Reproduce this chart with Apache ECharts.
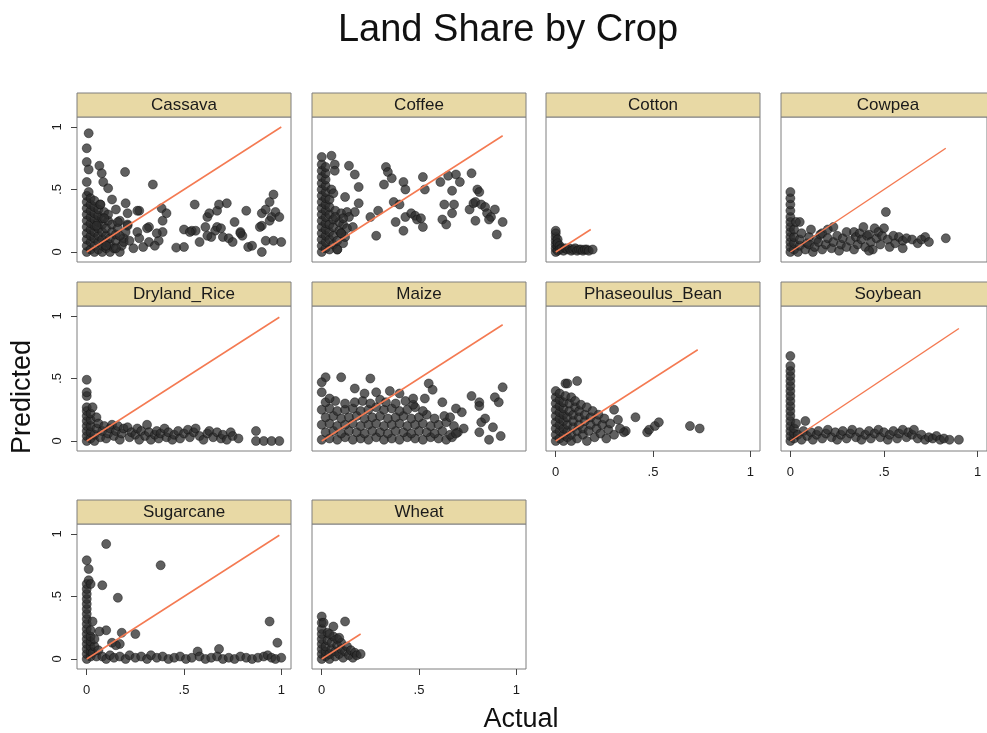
<!DOCTYPE html>
<html>
<head>
<meta charset="utf-8">
<title>Land Share by Crop</title>
<script src="https://cdn.jsdelivr.net/npm/echarts@6.0.0/dist/echarts.min.js"></script>
<style>
  html, body { margin: 0; padding: 0; background: #fff; }
  #main { width: 987px; height: 733px; }
</style>
</head>
<body>
<div id="main"></div>
<script>
// ---- data: [actual, predicted] pairs ----
var crops = ['Cassava', 'Coffee', 'Cotton', 'Cowpea', 'Dryland_Rice', 'Maize',
             'Phaseoulus_Bean', 'Soybean', 'Sugarcane', 'Wheat'];

// largest actual share per crop (end of the 45 degree line)
var maxActual = [1.0, 0.93, 0.18, 0.83, 0.99, 0.93, 0.73, 0.9, 0.99, 0.2];

var tickValues = [0, 0.5, 1];

var cassava = [
  [0,0],[0,0.05],[0,0.1],[0,0.15],[0,0.2],[0,0.25],[0,0.3],[0,0.35],[0,0.4],[0,0.45],[0.01,0.48],
  [0.02,0.02],[0.02,0.08],[0.02,0.13],[0.02,0.18],[0.02,0.23],[0.02,0.28],[0.02,0.33],[0.02,0.38],[0.02,0.43],
  [0.04,0],[0.04,0.05],[0.04,0.11],[0.04,0.16],[0.04,0.21],[0.04,0.26],[0.04,0.31],[0.04,0.36],[0.04,0.41],
  [0.06,0.02],[0.06,0.08],[0.06,0.13],[0.06,0.19],[0.06,0.24],[0.06,0.29],[0.06,0.34],[0.07,0.38],
  [0.08,0],[0.08,0.05],[0.08,0.1],[0.08,0.16],[0.08,0.22],[0.08,0.27],[0.09,0.32],
  [0.1,0.03],[0.1,0.08],[0.1,0.13],[0.1,0.19],[0.11,0.25],[0.11,0.3],
  [0.12,0],[0.12,0.06],[0.12,0.11],[0.13,0.16],[0.13,0.22],
  [0.14,0.03],[0.15,0.09],[0.15,0.14],[0.16,0.19],[0.17,0.25],
  [0.17,0],[0.18,0.05],[0.19,0.11],[0.2,0.16],[0.21,0.22],
  [0.01,0.95],[0,0.83],[0,0.72],[0.01,0.66],[0.065,0.69],[0.077,0.63],[0.197,0.64],[0.085,0.56],
  [0,0.56],[0.11,0.51],[0.34,0.54],[0.2,0.39],[0.13,0.42],[0.27,0.33],[0.385,0.35],[0.41,0.31],
  [0.39,0.25],[0.32,0.2],[0.39,0.16],[0.37,0.09],[0.46,0.035],[0.5,0.04],[0.555,0.38],[0.5,0.18],
  [0.54,0.17],[0.56,0.17],[0.58,0.08],[0.61,0.2],[0.62,0.28],[0.63,0.31],[0.67,0.33],[0.68,0.38],
  [0.67,0.2],[0.66,0.17],[0.69,0.19],[0.72,0.39],[0.7,0.12],[0.73,0.11],[0.76,0.24],[0.75,0.08],
  [0.79,0.16],[0.8,0.13],[0.82,0.33],[0.83,0.04],[0.85,0.05],[0.9,0.31],[0.9,0.21],[0.92,0.34],
  [0.94,0.4],[0.96,0.46],[0.94,0.25],[0.95,0.28],[0.9,0],[0.92,0.09],[0.96,0.09],[0.97,0.32],
  [0.99,0.28],[1.0,0.08],[0.89,0.2],[0.79,0.15],[0.64,0.12],[0.62,0.13],[0.53,0.16],
  [0.15,0.34],[0.16,0.24],[0.21,0.31],[0.26,0.33],[0.21,0.21],[0.26,0.16],[0.27,0.11],[0.31,0.19],
  [0.32,0.08],[0.35,0.05],[0.29,0.04],[0.24,0.03],[0.19,0.08],[0.17,0.13],[0.22,0.09],[0.36,0.15],
  [0.15,0.03],[0.1,0.05],[0.09,0.27],[0.07,0.38],[0.05,0.21]
];

var coffee = [
  [0,0],[0,0.05],[0,0.1],[0,0.15],[0,0.2],[0,0.25],[0,0.3],[0,0.35],[0,0.4],[0,0.45],[0,0.5],
  [0,0.55],[0,0.6],[0,0.65],[0,0.7],[0,0.76],
  [0.02,0.03],[0.02,0.08],[0.02,0.13],[0.02,0.18],[0.02,0.23],[0.02,0.28],[0.02,0.33],[0.02,0.38],
  [0.02,0.43],[0.02,0.48],[0.02,0.53],[0.02,0.58],[0.02,0.63],[0.02,0.68],
  [0.04,0.02],[0.04,0.1],[0.04,0.16],[0.04,0.22],[0.04,0.3],[0.04,0.36],[0.04,0.42],[0.05,0.5],[0.05,0.77],
  [0.06,0.06],[0.06,0.13],[0.06,0.2],[0.06,0.26],[0.07,0.33],[0.06,0.47],
  [0.08,0.02],[0.08,0.09],[0.09,0.17],[0.09,0.24],[0.1,0.31],[0.1,0.15],[0.11,0.07],[0.11,0.22],
  [0.12,0.12],[0.13,0.19],
  [0.067,0.7],[0.067,0.65],[0.14,0.69],[0.17,0.62],[0.19,0.52],[0.12,0.44],[0.19,0.39],[0.17,0.32],
  [0.13,0.32],[0.14,0.28],[0.11,0.27],[0.07,0.28],[0.29,0.33],[0.25,0.28],[0.16,0.2],[0.1,0.15],
  [0.08,0.02],[0.28,0.13],[0.33,0.68],[0.34,0.64],[0.36,0.59],[0.32,0.54],[0.42,0.56],[0.43,0.5],
  [0.37,0.4],[0.4,0.38],[0.38,0.24],[0.42,0.17],[0.43,0.28],[0.46,0.31],[0.48,0.29],[0.49,0.26],
  [0.51,0.27],[0.52,0.2],[0.52,0.6],[0.53,0.5],[0.61,0.56],[0.65,0.61],[0.69,0.62],[0.71,0.56],
  [0.77,0.63],[0.67,0.49],[0.63,0.38],[0.68,0.38],[0.67,0.31],[0.62,0.26],[0.64,0.22],[0.76,0.34],
  [0.78,0.39],[0.79,0.4],[0.8,0.5],[0.81,0.48],[0.82,0.38],[0.84,0.36],[0.85,0.31],[0.87,0.28],
  [0.89,0.34],[0.86,0.26],[0.79,0.25],[0.93,0.24],[0.9,0.14]
];

var cotton = [
  [0,0],[0,0.03],[0,0.06],[0,0.09],[0,0.12],[0,0.15],[0,0.17],[0.01,0.01],[0.01,0.05],[0.01,0.1],
  [0.01,0.07],[0.02,0.05],[0.02,0.02],[0.03,0.03],[0.04,0.01],[0.05,0.03],[0.06,0.02],[0.07,0.03],
  [0.08,0.01],[0.09,0.02],[0.1,0.03],[0.11,0.01],[0.12,0.02],[0.13,0.02],[0.14,0.01],[0.15,0.02],
  [0.16,0.02],[0.17,0.01],[0.19,0.02]
];

var cowpea = [
  [0,0],[0,0.04],[0,0.08],[0,0.12],[0,0.16],[0,0.2],[0,0.24],[0,0.28],[0,0.33],[0,0.38],[0,0.43],[0,0.48],
  [0.02,0.02],[0.02,0.07],[0.02,0.12],[0.02,0.18],[0.03,0.24],
  [0.04,0],[0.05,0.05],[0.05,0.1],[0.06,0.15],[0.05,0.24],
  [0.08,0.02],[0.09,0.07],[0.1,0.12],[0.11,0.18],[0.1,0.06],
  [0.12,0],[0.13,0.04],[0.14,0.1],[0.15,0.08],[0.16,0.14],[0.17,0.15],[0.17,0.02],[0.19,0.06],
  [0.2,0.11],[0.2,0.18],[0.22,0.03],[0.23,0.08],[0.23,0.2],[0.25,0.13],[0.26,0.01],[0.27,0.06],
  [0.28,0.11],[0.3,0.16],[0.3,0.04],[0.32,0.09],[0.34,0.16],[0.34,0.02],[0.35,0.12],[0.36,0.06],
  [0.37,0.15],[0.38,0.1],[0.39,0.2],[0.4,0.04],[0.41,0.13],[0.42,0.14],[0.43,0.08],[0.44,0.02],
  [0.45,0.19],[0.46,0.11],[0.47,0.16],[0.48,0.06],[0.49,0.13],[0.5,0.19],[0.51,0.32],[0.52,0.1],
  [0.53,0.04],[0.55,0.13],[0.56,0.07],[0.58,0.12],[0.6,0.09],[0.62,0.11],[0.65,0.1],[0.68,0.07],
  [0.7,0.1],[0.72,0.12],[0.74,0.08],[0.83,0.11],[0.42,0.01],[0.6,0.03]
];

var drylandRice = [
  [0,0],[0,0.04],[0,0.08],[0,0.12],[0,0.16],[0,0.2],[0,0.24],[0,0.27],[0,0.36],[0,0.39],[0,0.49],
  [0.02,0.02],[0.02,0.07],[0.02,0.12],[0.02,0.17],[0.02,0.22],[0.03,0.27],
  [0.04,0],[0.04,0.05],[0.05,0.1],[0.05,0.19],[0.06,0.14],
  [0.07,0.03],[0.08,0.08],[0.09,0.12],[0.1,0.02],[0.11,0.06],[0.12,0.1],[0.13,0.13],[0.14,0.04],
  [0.15,0.08],[0.16,0.12],[0.17,0.01],[0.18,0.06],[0.19,0.1],[0.21,0.11],[0.22,0.03],[0.23,0.07],
  [0.25,0.05],[0.26,0.1],[0.27,0.01],[0.28,0.08],[0.3,0.04],[0.31,0.13],[0.32,0.07],[0.33,0.01],
  [0.35,0.05],[0.36,0.08],[0.37,0.02],[0.38,0.06],[0.4,0.1],[0.41,0.03],[0.42,0.07],[0.44,0.01],
  [0.45,0.05],[0.47,0.08],[0.48,0.02],[0.5,0.06],[0.52,0.09],[0.53,0.03],[0.55,0.07],[0.56,0.1],
  [0.58,0.04],[0.6,0.01],[0.62,0.06],[0.63,0.08],[0.65,0.03],[0.67,0.07],[0.69,0.02],[0.7,0.05],
  [0.72,0.01],[0.74,0.07],[0.75,0.04],[0.78,0.02],[0.87,0.08],[0.87,0],[0.91,0],[0.95,0],[0.99,0]
];

var maize = [
  [0,0.01],[0.04,0.02],[0.08,0.01],[0.12,0.03],[0.16,0.01],[0.2,0.02],[0.24,0.01],[0.28,0.03],
  [0.32,0.01],[0.36,0.02],[0.4,0.01],[0.44,0.03],[0.48,0.02],[0.52,0.01],[0.56,0.03],[0.6,0.02],
  [0.64,0.01],[0.67,0.03],
  [0.02,0.07],[0.06,0.08],[0.1,0.06],[0.14,0.08],[0.18,0.07],[0.22,0.06],[0.26,0.08],[0.3,0.07],
  [0.34,0.06],[0.38,0.08],[0.42,0.07],[0.46,0.06],[0.5,0.08],[0.54,0.07],[0.58,0.06],[0.62,0.08],
  [0.66,0.05],[0.7,0.07],
  [0,0.13],[0.04,0.14],[0.08,0.12],[0.12,0.13],[0.16,0.14],[0.2,0.12],[0.24,0.13],[0.28,0.14],
  [0.32,0.12],[0.36,0.13],[0.4,0.14],[0.44,0.12],[0.48,0.13],[0.52,0.14],[0.56,0.12],[0.6,0.13],
  [0.64,0.15],[0.68,0.12],
  [0.02,0.19],[0.06,0.2],[0.1,0.18],[0.14,0.19],[0.18,0.2],[0.22,0.18],[0.26,0.19],[0.3,0.2],
  [0.34,0.18],[0.38,0.19],[0.42,0.2],[0.46,0.18],[0.5,0.19],[0.54,0.21],[0.58,0.18],[0.63,0.2],
  [0.66,0.19],
  [0,0.25],[0.04,0.26],[0.08,0.24],[0.12,0.25],[0.16,0.26],[0.2,0.24],[0.24,0.25],[0.28,0.27],
  [0.32,0.25],[0.36,0.26],[0.4,0.24],[0.44,0.25],[0.48,0.27],[0.52,0.24],
  [0.02,0.31],[0.07,0.32],[0.12,0.3],[0.17,0.31],[0.21,0.32],[0.25,0.3],[0.3,0.33],[0.33,0.31],
  [0.38,0.3],[0.43,0.32],[0.47,0.29],
  [0.02,0.51],[0,0.47],[0.1,0.51],[0.25,0.5],[0,0.39],[0.04,0.34],[0.17,0.42],[0.22,0.38],
  [0.28,0.39],[0.35,0.4],[0.4,0.38],[0.55,0.46],[0.57,0.41],[0.47,0.34],[0.53,0.34],[0.62,0.31],
  [0.77,0.36],[0.81,0.31],[0.81,0.28],[0.89,0.35],[0.91,0.31],[0.93,0.43],[0.72,0.23],[0.69,0.26],
  [0.82,0.15],[0.84,0.18],[0.81,0.07],[0.88,0.11],[0.86,0.01],[0.92,0.04],[0.73,0.1],[0.69,0.06]
];

var phaseoulusBean = [
  [0,0],[0,0.05],[0,0.1],[0,0.15],[0,0.2],[0,0.25],[0,0.3],[0,0.35],[0,0.4],
  [0.02,0.02],[0.02,0.08],[0.02,0.13],[0.02,0.18],[0.02,0.23],[0.02,0.28],[0.02,0.33],[0.02,0.38],
  [0.04,0],[0.04,0.05],[0.04,0.1],[0.04,0.16],[0.04,0.21],[0.04,0.26],[0.04,0.31],[0.05,0.36],
  [0.06,0.03],[0.06,0.08],[0.06,0.13],[0.06,0.19],[0.07,0.24],[0.07,0.3],[0.08,0.35],
  [0.08,0],[0.08,0.05],[0.09,0.11],[0.09,0.16],[0.09,0.21],[0.1,0.27],[0.1,0.32],
  [0.11,0.02],[0.11,0.08],[0.12,0.13],[0.12,0.19],[0.12,0.24],[0.13,0.29],
  [0.14,0.05],[0.14,0.1],[0.15,0.16],[0.15,0.21],[0.16,0.27],
  [0.16,0],[0.17,0.08],[0.18,0.13],[0.18,0.19],[0.19,0.24],
  [0.2,0.03],[0.21,0.1],[0.21,0.16],[0.22,0.21],
  [0.23,0.06],[0.24,0.13],[0.25,0.18],[0.26,0.02],[0.27,0.09],[0.28,0.14],
  [0.05,0.46],[0.06,0.46],[0.11,0.48],[0.3,0.25],[0.32,0.17],[0.36,0.08],[0.41,0.19],[0.47,0.07],
  [0.48,0.09],[0.51,0.12],[0.53,0.15],[0.69,0.12],[0.74,0.1],[0.35,0.07],[0.3,0.05],[0.33,0.1]
];

var soybean = [
  [0,0],[0,0.04],[0,0.08],[0,0.12],[0,0.16],[0,0.2],[0,0.24],[0,0.28],[0,0.32],[0,0.36],[0,0.4],
  [0,0.44],[0,0.48],[0,0.52],[0,0.56],[0,0.6],[0,0.68],
  [0.02,0.02],[0.02,0.06],[0.02,0.1],[0.03,0.14],
  [0.04,0.05],[0.06,0.01],[0.07,0.08],[0.08,0.16],[0.09,0.04],[0.11,0.07],[0.12,0.01],[0.14,0.05],
  [0.15,0.08],[0.17,0.02],[0.19,0.06],[0.2,0.09],[0.22,0.03],[0.24,0.07],[0.25,0.01],[0.27,0.05],
  [0.28,0.08],[0.3,0.02],[0.32,0.06],[0.33,0.09],[0.35,0.03],[0.37,0.07],[0.38,0.01],[0.4,0.05],
  [0.42,0.08],[0.43,0.02],[0.45,0.06],[0.47,0.09],[0.48,0.03],[0.5,0.07],[0.52,0.01],[0.53,0.05],
  [0.55,0.08],[0.57,0.02],[0.58,0.06],[0.6,0.09],[0.62,0.03],[0.63,0.07],[0.65,0.05],[0.66,0.09],
  [0.68,0.02],[0.7,0.05],[0.72,0.01],[0.74,0.03],[0.76,0.02],[0.78,0.04],[0.8,0.01],[0.82,0.02],
  [0.85,0.01],[0.9,0.01]
];

var sugarcane = [
  [0,0],[0,0.04],[0,0.08],[0,0.12],[0,0.16],[0,0.2],[0,0.24],[0,0.28],[0,0.32],[0,0.36],[0,0.4],
  [0,0.44],[0,0.48],[0,0.52],[0,0.56],[0,0.6],[0.01,0.63],[0.01,0.72],[0,0.79],
  [0.02,0.02],[0.02,0.06],[0.02,0.1],[0.02,0.14],[0.02,0.18],[0.02,0.23],[0.03,0.3],[0.02,0.6],
  [0.03,0.05],[0.04,0.1],[0.04,0.16],[0.05,0.02],[0.06,0.07],
  [0.1,0.92],[0.38,0.75],[0.08,0.59],[0.16,0.49],[0.94,0.3],[0.98,0.13],[0.68,0.08],[0.57,0.06],
  [0.1,0.23],[0.065,0.22],[0.18,0.21],[0.25,0.2],[0.13,0.13],[0.17,0.12],[0.15,0.11],
  [0.08,0.02],[0.1,0],[0.12,0.03],[0.14,0.01],[0.17,0.02],[0.2,0],[0.22,0.03],[0.25,0.01],
  [0.28,0.02],[0.31,0],[0.33,0.03],[0.36,0.01],[0.39,0.02],[0.42,0],[0.45,0.01],[0.48,0.02],
  [0.51,0],[0.54,0.01],[0.58,0.02],[0.61,0],[0.64,0.01],[0.67,0.02],[0.7,0],[0.73,0.01],
  [0.76,0],[0.79,0.02],[0.82,0.01],[0.85,0],[0.88,0.01],[0.91,0.02],[0.93,0.03],[0.95,0.01],
  [0.97,0],[1,0.01]
];

var wheat = [
  [0,0],[0,0.04],[0,0.08],[0,0.12],[0,0.16],[0,0.2],[0,0.24],[0,0.29],[0,0.34],[0.01,0.29],
  [0.02,0.02],[0.02,0.06],[0.02,0.1],[0.03,0.15],[0.03,0.21],[0.04,0],[0.04,0.04],[0.05,0.08],
  [0.05,0.13],[0.06,0.18],[0.06,0.26],[0.07,0.02],[0.07,0.06],[0.08,0.11],[0.08,0.16],[0.09,0.04],
  [0.1,0.08],[0.1,0.13],[0.11,0.01],[0.12,0.06],[0.12,0.3],[0.13,0.1],[0.14,0.03],[0.15,0.07],
  [0.16,0.01],[0.17,0.05],[0.18,0.03],[0.2,0.04],[0.04,0.2],[0.09,0.17]
];

var cropPoints = [cassava, coffee, cotton, cowpea, drylandRice, maize,
                  phaseoulusBean, soybean, sugarcane, wheat];

// ---- layout ----
var colLeft = [77, 312, 546, 781];
var rowTop = [117, 306, 524];
var panelW = 214, panelH = 145, stripH = 24;
var FONT = '"Liberation Sans", Arial, sans-serif';
var N = crops.length;

var chart = echarts.init(document.getElementById('main'));

function tickFmt(v) {
  return String(v).replace(/^0\./, '.');
}

var grids = [], xAxes = [], yAxes = [], series = [], graphics = [];

crops.forEach(function (name, i) {
  var col = i % 4, row = Math.floor(i / 4);
  var left = colLeft[col], top = rowTop[row];
  var showY = col === 0;
  // x labels only on the lowest panel of each column
  var showX = row === 2 || (row === 1 && col >= 2);

  grids.push({
    left: left, top: top, width: panelW, height: panelH,
    show: true, backgroundColor: '#fff',
    borderColor: '#7f7f7f', borderWidth: 1
  });

  // main axes; each one sits on the zero of a hidden 0..1 helper axis,
  // which puts it on the frame edge
  xAxes.push({
    type: 'value', gridIndex: i, min: -0.05, max: 1.05,
    axisLine: { show: false, onZero: true, onZeroAxisIndex: N + i },
    splitLine: { show: false },
    axisTick: { show: showX, customValues: tickValues, length: 6,
                lineStyle: { color: '#444', width: 1 } },
    axisLabel: { show: showX, customValues: tickValues, formatter: tickFmt,
                 margin: 15, fontSize: 13, color: '#1a1a1a', fontFamily: FONT }
  });

  yAxes.push({
    type: 'value', gridIndex: i, min: -0.08, max: 1.08,
    axisLine: { show: false, onZero: true, onZeroAxisIndex: N + i },
    splitLine: { show: false },
    axisTick: { show: showY, customValues: tickValues, length: 6,
                lineStyle: { color: '#444', width: 1 } },
    axisLabel: { show: showY, customValues: tickValues, formatter: tickFmt, rotate: 90,
                 margin: 13, fontSize: 13, color: '#1a1a1a', fontFamily: FONT }
  });

  series.push({
    type: 'scatter', xAxisIndex: i, yAxisIndex: i,
    symbol: 'circle', symbolSize: 9,
    itemStyle: { color: 'rgba(45,45,45,0.95)', borderColor: 'rgba(15,15,15,0.95)', borderWidth: 0.6 },
    data: cropPoints[i],
    silent: true, animation: false
  });

  series.push({
    type: 'line', xAxisIndex: i, yAxisIndex: i,
    showSymbol: false, symbol: 'none',
    lineStyle: { color: '#f47a52', width: 1.5 },
    data: [[0, 0], [maxActual[i], maxActual[i]]],
    z: 3, silent: true, animation: false
  });

  // strip header
  graphics.push({
    type: 'rect',
    shape: { x: left, y: top - stripH, width: panelW, height: stripH },
    style: { fill: '#e8d9a5', stroke: '#7f7f7f', lineWidth: 1 }
  });
  graphics.push({
    type: 'text',
    x: left + panelW / 2, y: top - stripH / 2,
    style: { text: name, font: '17px ' + FONT, fill: '#1a1a1a',
             align: 'center', verticalAlign: 'middle',
             textAlign: 'center', textVerticalAlign: 'middle' }
  });
});

// hidden helper axes, 0..1 across each frame
crops.forEach(function (name, i) {
  xAxes.push({ type: 'value', gridIndex: i, min: 0, max: 1, show: false,
               axisLine: { onZero: false } });
  yAxes.push({ type: 'value', gridIndex: i, min: 0, max: 1, show: false,
               axisLine: { onZero: false } });
});

graphics.push({
  type: 'text', x: 508, y: 31,
  style: { text: 'Land Share by Crop', font: '38px ' + FONT, fill: '#111',
           align: 'center', verticalAlign: 'middle',
           textAlign: 'center', textVerticalAlign: 'middle' }
});
graphics.push({
  type: 'text', x: 23, y: 397, rotation: Math.PI / 2,
  style: { text: 'Predicted', font: '27px ' + FONT, fill: '#111',
           align: 'center', verticalAlign: 'middle',
           textAlign: 'center', textVerticalAlign: 'middle' }
});
graphics.push({
  type: 'text', x: 521, y: 720,
  style: { text: 'Actual', font: '27px ' + FONT, fill: '#111',
           align: 'center', verticalAlign: 'middle',
           textAlign: 'center', textVerticalAlign: 'middle' }
});

chart.setOption({
  backgroundColor: '#fff',
  animation: false,
  grid: grids,
  xAxis: xAxes,
  yAxis: yAxes,
  series: series,
  graphic: { elements: graphics }
});
</script>
</body>
</html>
